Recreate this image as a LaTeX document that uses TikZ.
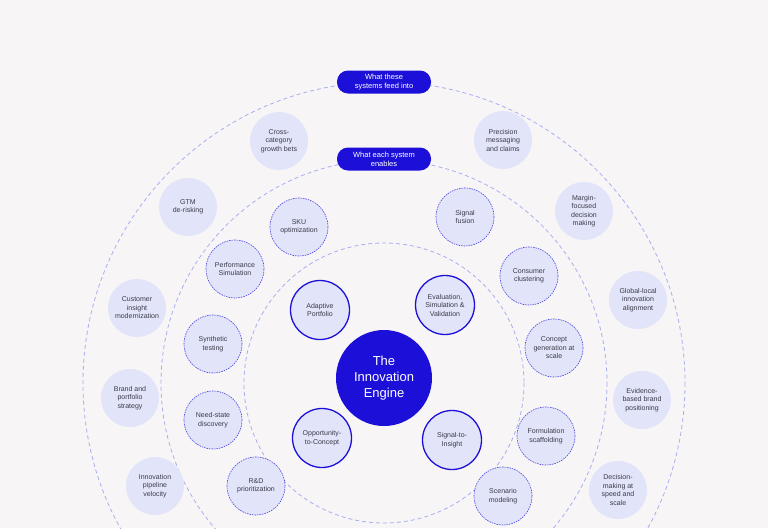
\documentclass[tikz,border=0pt]{standalone}
\usepackage{fontspec}
\setmainfont{Liberation Sans}
\definecolor{engine}{HTML}{1C10D8}
\definecolor{pale}{HTML}{E2E5FA}
\definecolor{ringc}{HTML}{A9AEF0}
\definecolor{bg}{HTML}{F7F5F6}
\definecolor{txt}{HTML}{3A3A48}
\tikzset{
  ring/.style={draw=ringc, dashed, dash pattern=on 4pt off 3pt, line width=0.8pt},
  core/.style={circle, draw=engine, line width=1.3pt, fill=pale, minimum size=59pt, inner sep=0pt, align=center, text=txt, font=\fontsize{7}{8.5}\selectfont},
  enable/.style={circle, draw=engine!80, dashed, dash pattern=on 1.5pt off 1pt, line width=0.6pt, fill=pale, minimum size=58pt, inner sep=0pt, align=center, text=txt, font=\fontsize{7}{8.5}\selectfont},
  feed/.style={circle, fill=pale, minimum size=58pt, inner sep=0pt, align=center, text=txt, font=\fontsize{7}{8.5}\selectfont},
  pill/.style={rounded corners=11pt, fill=engine, text=white, minimum width=94pt, minimum height=23pt, align=center, font=\fontsize{7.5}{9}\selectfont}
}
\begin{document}
\begin{tikzpicture}[x=1pt, y=-1pt]
  \fill[bg] (0,0) rectangle (768,528);
  \useasboundingbox (0,0) rectangle (768,528);
  % Rings
  \coordinate (o) at (384,383);
  \draw[ring] (o) circle[radius=301];
  \draw[ring] (o) circle[radius=223];
  \draw[ring] (o) circle[radius=140];

  % Engine
  \node[circle, fill=engine, minimum size=96pt, inner sep=0pt, align=center, text=white, font=\fontsize{13}{16}\selectfont] at (384,378) (engine) {The\\Innovation\\Engine};
  \node[core] at (320,310) (adapt) {Adaptive\\Portfolio};
  \node[core] at (445,305) (eval) {Evaluation,\\Simulation \&\\Validation};
  \node[core] at (322,438) (opp) {Opportunity-\\to-Concept};
  \node[core] at (452,440) (sig) {Signal-to-\\Insight};

  % What each system enables
  \node[enable] at (299,227) (sku) {SKU\\optimization};
  \node[enable] at (235,269) (perf) {Performance\\Simulation};
  \node[enable] at (213,344) (synth) {Synthetic\\testing};
  \node[enable] at (213,420) (need) {Need-state\\discovery};
  \node[enable] at (256,486) (rnd) {R\&D\\prioritization};
  \node[enable] at (465,217) (fusion) {Signal\\fusion};
  \node[enable] at (529,276) (clust) {Consumer\\clustering};
  \node[enable] at (554,348) (concept) {Concept\\generation at\\scale};
  \node[enable] at (546,436) (form) {Formulation\\scaffolding};
  \node[enable] at (503,496) (scen) {Scenario\\modeling};

  % What these systems feed into
  \node[feed] at (279,141) (cross) {Cross-\\category\\growth bets};
  \node[feed] at (503,140) (prec) {Precision\\messaging\\and claims};
  \node[feed] at (188,207) (gtm) {GTM\\de-risking};
  \node[feed] at (584,211) (margin) {Margin-\\focused\\decision\\making};
  \node[feed] at (137,308) (cust) {Customer\\insight\\modernization};
  \node[feed] at (638,300) (glob) {Global-local\\innovation\\alignment};
  \node[feed] at (130,398) (brand) {Brand and\\portfolio\\strategy};
  \node[feed] at (642,400) (evid) {Evidence-\\based brand\\positioning};
  \node[feed] at (155,486) (pipe) {Innovation\\pipeline\\velocity};
  \node[feed] at (618,490) (dec) {Decision-\\making at\\speed and\\scale};

  % Labels
  \node[pill] at (384,82) (feedlbl) {What these\\systems feed into};
  \node[pill] at (384,159) (enablbl) {What each system\\enables};
\end{tikzpicture}
\end{document}
